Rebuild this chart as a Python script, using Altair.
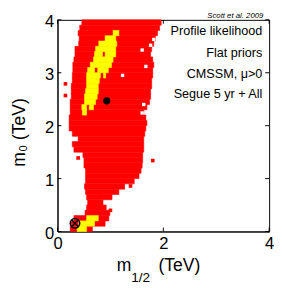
import altair as alt
import pandas as pd

# ---- data (TeV) ----
row_bottom = [0.0, 0.1, 0.2, 0.3, 0.4, 0.5, 0.6, 0.7, 0.8, 0.9,
              1.0, 1.1, 1.2, 1.3, 1.4, 1.5, 1.6, 1.7, 1.8, 1.9,
              2.0, 2.1, 2.2, 2.3, 2.4, 2.5, 2.6, 2.7, 2.8, 2.9,
              3.0, 3.1, 3.2, 3.3, 3.4, 3.5, 3.6, 3.7, 3.8, 3.9]
red_lo = [0.24, 0.26, 0.31, 0.52, 0.55, 0.57, 0.55, 0.53, 0.51, 0.53,
          0.53, 0.53, 0.50, 0.50, 0.48, 0.31, 0.28, 0.39, 0.28, 0.22,
          0.22, 0.22, 0.24, 0.24, 0.24, 0.26, 0.26, 0.26, 0.28, 0.28,
          0.29, 0.29, 0.31, 0.33, 0.33, 0.40, 0.41, 0.39, 0.42, 0.46]
red_hi = [0.66, 0.90, 0.97, 0.99, 0.92, 0.86, 1.03, 1.16, 1.27, 1.45,
          1.54, 1.58, 1.60, 1.61, 1.61, 1.63, 1.63, 1.63, 1.65, 1.67,
          1.69, 1.67, 1.63, 1.69, 1.74, 1.76, 1.76, 1.78, 1.78, 1.80,
          1.80, 1.82, 1.80, 1.76, 1.78, 1.82, 1.85, 1.89, 1.93, 1.96]

yel_bottom = [0.0, 0.1, 0.2,
              2.2, 2.3, 2.3, 2.4, 2.5, 2.6, 2.7, 2.8, 2.9, 2.9, 3.0, 3.0,
              3.1, 3.2, 3.3, 3.3, 3.4, 3.5, 3.6, 3.7]
yel_lo = [0.37, 0.40, 0.55,
          0.47, 0.46, 0.60, 0.51, 0.51, 0.53, 0.55, 0.55, 0.55, 0.87, 0.57, 0.76,
          0.62, 0.68, 0.70, 0.90, 0.72, 0.78, 0.90, 1.05]
yel_hi = [0.55, 0.70, 0.77,
          0.55, 0.55, 0.68, 0.72, 0.75, 0.77, 0.77, 0.79, 0.81, 0.91, 0.70, 0.96,
          1.02, 1.05, 0.85, 1.10, 1.10, 1.12, 1.10, 1.16]

red_dot_x = [0.15, 0.15, 0.39, 1.80, 1.38, 1.00]
red_dot_y = [2.79, 2.57, 1.39, 1.34, 0.86, 0.40]

hole_x = [1.60, 1.82, 1.67, 1.76, 1.63, 1.60, 1.23]
hole_y = [3.43, 3.63, 3.12, 3.52, 2.40, 2.24, 2.95]

best_fit_x = [0.93]
best_fit_y = [2.47]
marker_x = [0.33]
marker_y = [0.155]

x_ticks = [0, 2, 4]
y_ticks = [0, 1, 2, 3, 4]

labels = ["Profile likelihood", "Flat priors", "CMSSM, \u03bc>0", "Segue 5 yr + All"]
ROW_H = 0.1
FONT = "Liberation Sans"

red_df = pd.DataFrame({"y": row_bottom, "x": red_lo, "x2": red_hi})
red_df["y2"] = red_df["y"] + ROW_H
yel_df = pd.DataFrame({"y": yel_bottom, "x": yel_lo, "x2": yel_hi})
yel_df["y2"] = yel_df["y"] + ROW_H

xs = alt.Scale(domain=[0, 4], nice=False, zero=False)
ys = alt.Scale(domain=[0, 4], nice=False, zero=False)

xaxis = alt.Axis(values=x_ticks, format="d", title=None, ticks=False, grid=False,
                 labelFontSize=17, labelFont=FONT, labelColor="black",
                 labelPadding=5, domainColor="black", labelFlush=False)
yaxis = alt.Axis(values=y_ticks, format="d", title=None, ticks=False, grid=False,
                 labelFontSize=17, labelFont=FONT, labelColor="black",
                 labelPadding=4, labelOffset=2, domainColor="black",
                 labelFlush=False)

red = alt.Chart(red_df).mark_rect(color="#ff0000", stroke="#ff0000", strokeWidth=0.6).encode(
    x=alt.X("x:Q", scale=xs, axis=xaxis), x2="x2:Q",
    y=alt.Y("y:Q", scale=ys, axis=yaxis), y2="y2:Q")

dots = alt.Chart(pd.DataFrame({"x": red_dot_x, "y": red_dot_y})).mark_square(
    color="#ff0000", size=14, opacity=1).encode(x="x:Q", y="y:Q")

holes = alt.Chart(pd.DataFrame({"x": hole_x, "y": hole_y})).mark_square(
    color="white", size=12, opacity=1).encode(x="x:Q", y="y:Q")

yel = alt.Chart(yel_df).mark_rect(color="#ffff00", stroke="#ffff00", strokeWidth=0.6).encode(
    x="x:Q", x2="x2:Q", y="y:Q", y2="y2:Q")

best = alt.Chart(pd.DataFrame({"x": best_fit_x, "y": best_fit_y})).mark_circle(
    color="black", size=55, opacity=1).encode(x="x:Q", y="y:Q")

mdf = pd.DataFrame({"x": marker_x, "y": marker_y})
ring = alt.Chart(mdf).mark_point(shape="circle", size=95, stroke="black",
                                 strokeWidth=1.6, filled=False, opacity=1).encode(x="x:Q", y="y:Q")
cross = alt.Chart(mdf).mark_point(shape="M-0.7071,-0.7071L0.7071,0.7071M-0.7071,0.7071L0.7071,-0.7071",
                                  size=121, stroke="black", strokeWidth=1.4,
                                  filled=False, opacity=1).encode(x="x:Q", y="y:Q")

xt = pd.DataFrame({"v": x_ticks})
yt = pd.DataFrame({"v": y_ticks})
tick_b = alt.Chart(xt).mark_rule(color="black").encode(x="v:Q", y=alt.value(218), y2=alt.value(214))
tick_t = alt.Chart(xt).mark_rule(color="black").encode(x="v:Q", y=alt.value(0), y2=alt.value(4))
tick_l = alt.Chart(yt).mark_rule(color="black").encode(y="v:Q", x=alt.value(0), x2=alt.value(4))
tick_r = alt.Chart(yt).mark_rule(color="black").encode(y="v:Q", x=alt.value(214), x2=alt.value(218))

lab_df = pd.DataFrame({"t": labels, "py": [16, 38, 60, 80]})
lab = alt.Chart(lab_df).mark_text(align="right", baseline="alphabetic", fontSize=13,
                                  font=FONT, color="black").encode(
    text="t:N", x=alt.value(211), y=alt.Y("py:Q", scale=None))

def txt(s, x, y, size, **kw):
    return alt.Chart(pd.DataFrame({"t": [s]})).mark_text(
        font=FONT, fontSize=size, color="black", **kw).encode(
        text="t:N", x=alt.value(x), y=alt.value(y))

credit = txt("Scott et al. 2009", 212, -2, 8, align="right", baseline="alphabetic", fontStyle="italic")
xt_m = txt("m", 61, 259, 18, align="left", baseline="alphabetic")
xt_s = txt("1/2", 76, 270, 14, align="left", baseline="alphabetic")
xt_u = txt("(TeV)", 104, 259, 18, align="left", baseline="alphabetic")
yt_t = txt("m\u2080 (TeV)", -39, 116, 18, align="center", baseline="middle", angle=270)

chart = alt.layer(red, dots, holes, yel, best, ring, cross,
                  tick_b, tick_t, tick_l, tick_r, lab, credit,
                  xt_m, xt_s, xt_u, yt_t).properties(
    width=218, height=218,
    autosize=alt.AutoSizeParams(type="none"),
    padding={"left": 51, "top": 8, "right": 5, "bottom": 54},
).configure_view(stroke="black", strokeWidth=1).configure_axis(domainWidth=1)

chart.save("out.html", embed_options={"renderer": "svg", "actions": False})
